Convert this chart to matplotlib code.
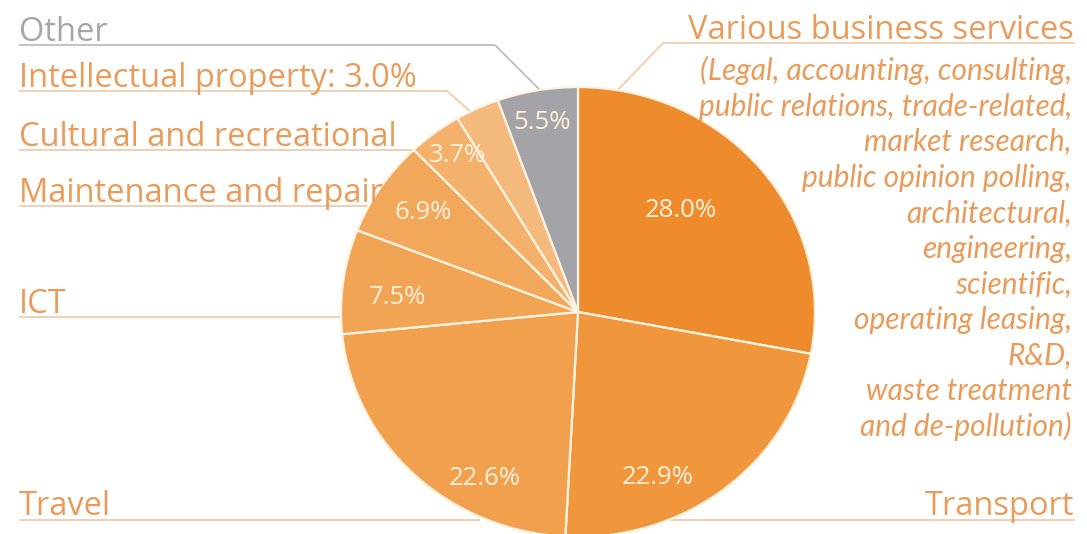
import matplotlib
matplotlib.use("Agg")
import matplotlib.pyplot as plt
import numpy as np

# ---------------- data ----------------
categories = ["Various business services", "Transport", "Travel", "ICT",
              "Maintenance and repair", "Cultural and recreational",
              "Intellectual property", "Other"]
shares = [28.0, 22.9, 22.6, 7.5, 6.9, 3.7, 3.0, 5.5]
show_inside = [True, True, True, True, True, True, False, True]
label_with_value = [False, False, False, False, False, False, True, False]
detail_lines = ["(Legal, accounting, consulting,",
                "public relations, trade-related,",
                "market research,",
                "public opinion polling,",
                "architectural,",
                "engineering,",
                "scientific,",
                "operating leasing,",
                "R&D,",
                "waste treatment",
                "and de-pollution)"]

# ---------------- style ----------------
slice_colors = ["#EE8B2C", "#F0963D", "#F1A14E", "#F1A453",
                "#F2A85B", "#F3B16C", "#F4B97C", "#A4A4A8"]
pct_radius = [0.625, 0.81, 0.838, 0.762, 0.787, 0.862, 0.85, 0.857]
pct_angle_off = [6.3, -13.5, 15.6, 3.1, -0.3, -1.0, 0.0, 0.4]

W, H = 1087, 534
cx, cy, rx, ry = 578, 312, 237, 225

txt_orange = "#E89B5A"
txt_gray = "#A5A5AA"
line_orange = "#EFCDAE"
line_gray = "#BDBDC4"
pct_color = "#FFF0DC"
FONT = ["Open Sans", "DejaVu Sans"]
IFONT = ["Lato", "DejaVu Sans"]
label_size = 23.5
detail_size = 21.5
pct_size = 18.5

# label layout: (x, baseline y, ha, leader path, is_gray)
layout = {
    "Other": (19, 41, "left", [(19, 45), (495, 45), (548, 98)], True),
    "Intellectual property": (19, 87, "left", [(19, 91), (447, 91), (480, 120)], False),
    "Cultural and recreational": (19, 146, "left", [(19, 150), (445, 150)], False),
    "Maintenance and repair": (19, 202, "left", [(19, 206), (395, 206)], False),
    "ICT": (19, 313, "left", [(19, 317), (365, 317)], False),
    "Travel": (19, 515, "left", [(19, 520), (480, 520)], False),
    "Various business services": (1074, 39, "right", [(1075, 43), (663, 43), (610, 98)], False),
    "Transport": (1074, 515, "right", [(1075, 520), (650, 520)], False),
}
detail_x, detail_y0, detail_dy = 1072, 80, 35.6

fig = plt.figure(figsize=(W / 100, H / 100), dpi=100)
fig.patch.set_facecolor("white")
base = fig.add_axes([0, 0, 1, 1], zorder=0)
base.set_xlim(0, W)
base.set_ylim(H, 0)
base.axis("off")

pax = fig.add_axes([(cx - rx) / W, (H - (cy + ry)) / H, 2 * rx / W, 2 * ry / H], zorder=2)
pax.patch.set_alpha(0)
wedges, _ = pax.pie(shares, colors=slice_colors, startangle=90, counterclock=False,
                    radius=1, wedgeprops=dict(edgecolor="#FFF3E3", linewidth=1.6))
pax.set_aspect("auto")
pax.set_xlim(-1, 1)
pax.set_ylim(-1, 1)
pax.axis("off")

top = fig.add_axes([0, 0, 1, 1], zorder=3)
top.patch.set_alpha(0)
top.set_xlim(0, W)
top.set_ylim(H, 0)
top.axis("off")

total = sum(shares)
cum = 0.0
for v, show, r, off in zip(shares, show_inside, pct_radius, pct_angle_off):
    mid = 90 - 360 * (cum + v / 2) / total
    cum += v
    if not show:
        continue
    a = np.deg2rad(mid + off)
    pax.text(r * np.cos(a), r * np.sin(a), f"{v:.1f}%", ha="center", va="center",
             color=pct_color, fontsize=pct_size, family=FONT)

for cat, v, withv in zip(categories, shares, label_with_value):
    x, y, ha, path, gray = layout[cat]
    txt = f"{cat}: {v:.1f}%" if withv else cat
    top.text(x, y, txt, ha=ha, va="baseline", fontsize=label_size, family=FONT,
             color=txt_gray if gray else txt_orange)
    px, py = zip(*path)
    base.plot(px, py, color=line_gray if gray else line_orange, lw=1.3,
              solid_capstyle="butt", zorder=1)

for i, s in enumerate(detail_lines):
    top.text(detail_x, detail_y0 + i * detail_dy, s, ha="right", va="baseline",
             fontsize=detail_size, family=IFONT, style="italic", color=txt_orange)

fig.savefig("out.png", dpi=100, facecolor="white")
